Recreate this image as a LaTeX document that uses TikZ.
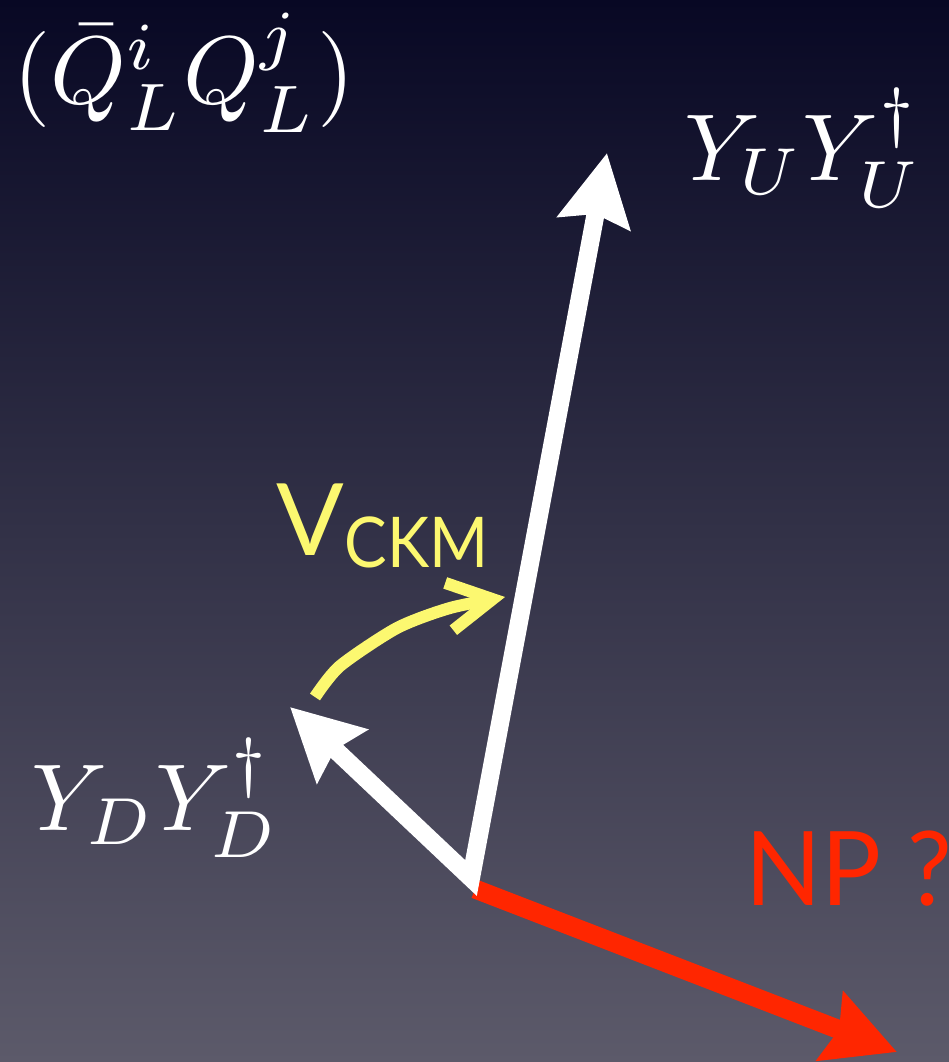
\documentclass[tikz,border=0pt]{standalone}
\usepackage{fontspec}
\newfontfamily\lato{Lato}
\usetikzlibrary{arrows.meta}
\definecolor{bgtop}{RGB}{8,8,36}
\definecolor{bgmid}{RGB}{48,46,72}
\definecolor{bgbot}{RGB}{92,90,106}
\definecolor{ckmyellow}{RGB}{252,248,112}
\definecolor{npred}{RGB}{255,38,0}
\tikzset{
  bigtip/.tip={Stealth[length=71pt,width=72pt,inset=9pt]},
  whitevec/.style={draw=white, line width=18pt, line join=miter, {bigtip}-{bigtip}},
  redvec/.style={draw=npred, line width=19pt, line cap=butt, -{bigtip}},
  ckmarrow/.style={draw=ckmyellow, line width=12pt, line cap=butt, -{Straight Barb[length=44pt,width=48pt]}},
  mathlabel/.style={text=white, inner sep=0pt, anchor=base west},
  latolabel/.style={inner sep=0pt, anchor=base west, font=\lato}
}
\begin{document}
\begin{tikzpicture}[x=1pt,y=-1pt]
  \useasboundingbox (0,0) rectangle (949,1062);
  \shade[top color=bgtop, middle color=bgmid, bottom color=bgbot] (0,0) rectangle (949,1062);
  % anchor points
  \coordinate (O) at (471,878);
  \coordinate (Utip) at (607,153);
  \coordinate (Dtip) at (290,707);
  \coordinate (Rstart) at (475,889);
  \coordinate (Rtip) at (897,1052);
  \coordinate (c0) at (315,697);
  \coordinate (c1) at (340,666);
  \coordinate (c2) at (397,628);
  \coordinate (c3) at (450,608);
  \coordinate (ctip) at (505,597);
  % vectors
  \draw[redvec] (Rstart) -- (Rtip);
  \draw[whitevec] (Dtip) -- (O) -- (Utip);
  \draw[ckmarrow] plot[smooth, tension=0.45] coordinates {(c0) (c1) (c2) (c3) (ctip)};
  % labels
  \node[mathlabel] (qq) at (13,104) {\scalebox{9.6}{$(\bar{Q}^i_L Q^j_L)$}};
  \node[mathlabel] (yu) at (684,180) {\scalebox{9.5}{$Y_U Y_U^\dagger$}};
  \node[mathlabel] (yd) at (31,830) {\scalebox{9.5}{$Y_D Y_D^\dagger$}};
  \node[latolabel, text=ckmyellow, font=\lato\fontsize{100}{110}\selectfont] (ckm) at (276,555) {V\kern1pt\raisebox{-12pt}{\scalebox{0.91}[1]{\fontsize{70}{76}\selectfont CKM}}};
  \node[latolabel, text=npred, font=\lato\fontsize{103}{110}\selectfont] (np) at (745,905) {\scalebox{0.97}[1]{NP ?}};
\end{tikzpicture}
\end{document}
